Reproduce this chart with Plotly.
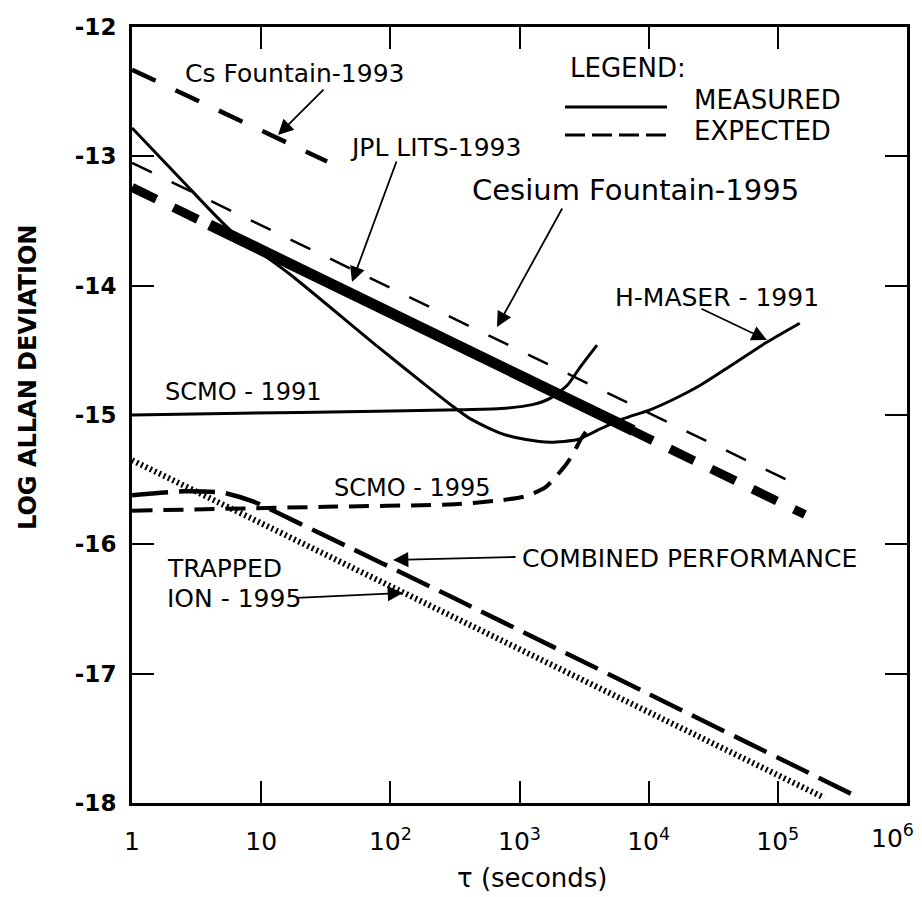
import numpy as np
import plotly.graph_objects as go

# ---------------- data (log10 tau [s], log10 Allan deviation) ----------------
CS93_LOGTAU = [0.0, 1.51]
CS93_LOGSIG = [-12.33, -13.04]

JPL_LOGTAU = [0.0, 5.15]
JPL_LOGSIG = [-13.05, -15.54]

CSF95_EXP_LOGTAU = [0.0, 5.21]
CSF95_EXP_LOGSIG = [-13.24, -15.77]
CSF95_MEAS_LOGTAU = [0.60, 3.88]
CSF95_MEAS_LOGSIG = [-13.53, -15.12]

HMASER_LOGTAU = [0.0, 0.40, 0.76, 1.22, 1.90, 2.30, 2.48, 2.62, 2.85, 3.05, 3.24, 3.45,
                 3.62, 3.80, 4.01, 4.19, 4.40, 4.65, 4.91, 5.17]
HMASER_LOGSIG = [-12.78, -13.20, -13.57, -13.91, -14.47, -14.79, -14.93, -15.03, -15.14, -15.19,
                 -15.21, -15.19, -15.11, -15.03, -14.96, -14.88, -14.77, -14.61, -14.44, -14.29]

SCMO91_LOGTAU = [0.0, 1.30, 2.54, 2.85, 3.10, 3.24, 3.37, 3.47, 3.60]
SCMO91_LOGSIG = [-15.00, -14.98, -14.96, -14.95, -14.92, -14.87, -14.77, -14.63, -14.46]

SCMO95_LOGTAU = [0.0, 1.50, 2.50, 2.85, 3.04, 3.20, 3.37, 3.48, 3.56]
SCMO95_LOGSIG = [-15.74, -15.71, -15.69, -15.66, -15.63, -15.56, -15.37, -15.18, -15.06]

ION_LOGTAU = [0.0, 5.36]
ION_LOGSIG = [-15.35, -17.96]

COMB_LOGTAU = [0.0, 0.40, 0.70, 0.94, 1.30, 2.48, 5.63]
COMB_LOGSIG = [-15.62, -15.59, -15.60, -15.67, -15.84, -16.41, -17.96]

X_TICK_VALS = [1, 10, 100, 1e3, 1e4, 1e5, 1e6]
X_TICK_TEXT = ["1", "10", "10<sup>2</sup>", "10<sup>3</sup>", "10<sup>4</sup>",
               "10<sup>5</sup>", "10<sup>6</sup>"]
Y_TICK_VALS = [-12, -13, -14, -15, -16, -17, -18]
Y_TICK_TEXT = ["-12", "-13", "-14", "-15", "-16", "-17", "-18"]

# ---------------- figure ----------------
FONT = "DejaVu Sans"
OFF = 8                       # default page body margin
WIN_W, WIN_H = 922, 897
W, H = WIN_W - OFF, WIN_H - OFF
L, R, T, B = 132, 907, 27, 803  # plot area in window pixels


def px(xp):  # window pixel -> paper x (layout helper for text placement)
    return (xp - L) / (R - L)


def py(yp):  # window pixel -> paper y
    return (B - yp) / (B - T)


def tau(lt):
    return (10.0 ** np.array(lt)).tolist()


fig = go.Figure()


def add_line(lt, ls, width, dash="solid", shape="linear"):
    fig.add_trace(go.Scatter(
        x=tau(lt), y=ls, mode="lines",
        line=dict(color="black", width=width, dash=dash, shape=shape, smoothing=0.6),
        hoverinfo="skip", showlegend=False))


add_line(CS93_LOGTAU, CS93_LOGSIG, 4.5, "26px,22px")
add_line(JPL_LOGTAU, JPL_LOGSIG, 2.5, "22px,22px")
add_line(CSF95_EXP_LOGTAU, CSF95_EXP_LOGSIG, 9, "27px,19px")
add_line(COMB_LOGTAU, COMB_LOGSIG, 4.5, "36px,11px", "spline")
add_line(ION_LOGTAU, ION_LOGSIG, 6, "2px,3px")
add_line(SCMO95_LOGTAU, SCMO95_LOGSIG, 4, "20px,11px", "spline")
add_line(SCMO91_LOGTAU, SCMO91_LOGSIG, 3, "solid", "spline")
add_line(HMASER_LOGTAU, HMASER_LOGSIG, 3, "solid", "spline")
add_line(CSF95_MEAS_LOGTAU, CSF95_MEAS_LOGSIG, 11)

annotations = []


def label(text, xp, yp, size=25, anchor="left", weight="normal", angle=0, yanchor="middle"):
    annotations.append(dict(
        text=text, xref="paper", yref="paper", x=px(xp), y=py(yp),
        xanchor=anchor, yanchor=yanchor, showarrow=False, textangle=angle,
        font=dict(family=FONT, size=size, color="black", weight=weight)))


label("Cs Fountain-1993", 183, 73, 25)
label("JPL LITS-1993", 348, 147, 25)
label("Cesium Fountain-1995", 470, 190, 29)
label("LEGEND:", 568, 68, 26)
label("MEASURED", 692, 100, 26)
label("EXPECTED", 692, 131, 26)
label("H-MASER - 1991", 613, 297, 25)
label("SCMO - 1991", 163, 392, 24)
label("SCMO - 1995", 332, 488, 24)
label("TRAPPED", 165, 568, 25)
label("ION - 1995", 165, 598, 25)
label("COMBINED PERFORMANCE", 520, 558, 25)
label("τ (seconds)", 532, 878, 26, anchor="center")
label("LOG ALLAN DEVIATION", 28, 378, 24, anchor="center", weight="bold", angle=-90)
# last decade label sits at the page edge: placed just inside like the original
label(X_TICK_TEXT[-1], 892, 818, 25, anchor="center", yanchor="top")


def arrow(tail, tip):
    tx = (tip[0] - L) / ((R - L) / 6.0)
    ty = -12 - (tip[1] - T) / ((B - T) / 6.0)
    annotations.append(dict(
        text="", x=tx, y=ty, xref="x", yref="y",
        ax=tail[0] - tip[0], ay=tail[1] - tip[1],
        showarrow=True, arrowhead=2, arrowsize=1.7, arrowwidth=1.8,
        arrowcolor="black", standoff=0))


arrow((325, 88), (278, 135))
arrow((397, 160), (352, 282))
arrow((563, 207), (497, 327))
arrow((700, 308), (767, 340))
arrow((517, 557), (393, 560))
arrow((295, 598), (403, 593))

shapes = [
    dict(type="line", xref="paper", yref="paper", x0=px(565), x1=px(667), y0=py(107), y1=py(107),
         line=dict(color="black", width=3)),
    dict(type="line", xref="paper", yref="paper", x0=px(565), x1=px(667), y0=py(135), y1=py(135),
         line=dict(color="black", width=3, dash="20px,7px")),
]

axis_common = dict(
    showline=True, linecolor="black", linewidth=3, mirror="ticks",
    ticks="inside", ticklen=22, tickwidth=2, tickcolor="black",
    showgrid=False, zeroline=False,
)

x_tick_text_axis = X_TICK_TEXT[:-1] + [""]

fig.update_layout(
    width=W, height=H,
    margin=dict(l=L - OFF, r=WIN_W - R, t=T - OFF, b=WIN_H - B, autoexpand=False),
    paper_bgcolor="white", plot_bgcolor="white",
    xaxis=dict(type="log", range=[-0.0005, 6.0005], tickvals=X_TICK_VALS, ticktext=x_tick_text_axis,
               tickfont=dict(family=FONT, size=25, color="black"), ticklabelstandoff=14,
               **axis_common),
    yaxis=dict(range=[-18.0005, -11.9995], tickvals=Y_TICK_VALS, ticktext=Y_TICK_TEXT,
               tickfont=dict(family=FONT, size=23, color="black", weight="bold"),
               ticklabelstandoff=8, **axis_common),
    annotations=annotations,
    shapes=shapes,
)

fig.write_html("out.html")
